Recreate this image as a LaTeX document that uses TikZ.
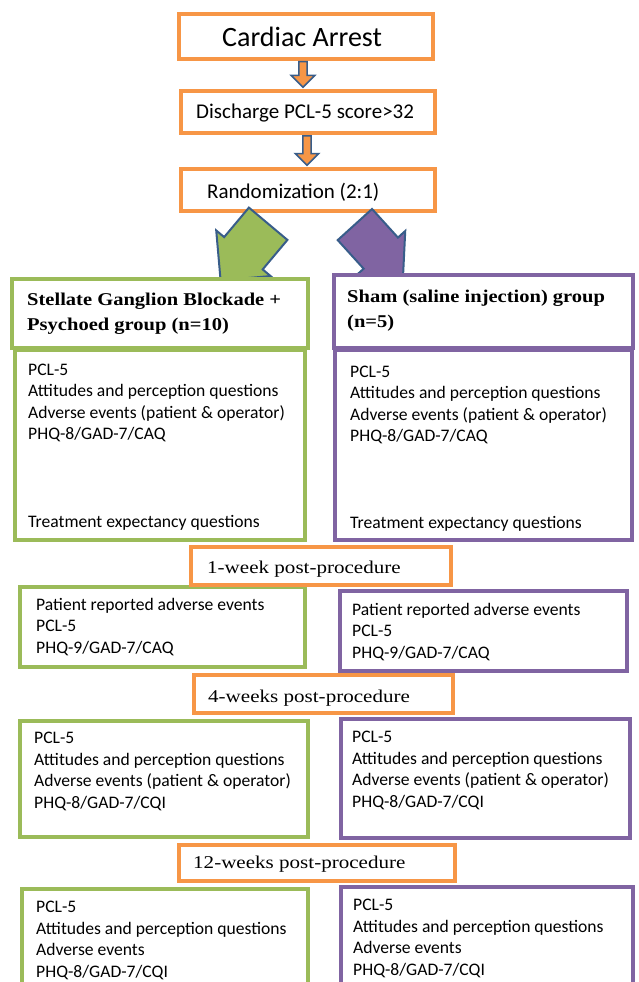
\documentclass[tikz,border=0pt]{standalone}
\usepackage{fontspec}
\setmainfont{Carlito}
\newfontfamily\headfont[FakeStretch=1.14]{Liberation Serif}
\newfontfamily\stagefont[FakeStretch=1.17]{Liberation Serif}
\usetikzlibrary{shapes.arrows}

\definecolor{boxorange}{HTML}{F79646}
\definecolor{boxgreen}{HTML}{9BBB59}
\definecolor{boxpurple}{HTML}{8064A2}
\definecolor{arrowline}{HTML}{385D8A}

\tikzset{
  boxline/.style={line width=4pt, fill=white, inner sep=0pt},
  obox/.style={boxline, draw=boxorange},
  gbox/.style={boxline, draw=boxgreen},
  pbox/.style={boxline, draw=boxpurple},
  % multi-line labels sit on the baseline of their last line
  txt/.style={anchor=base west, inner sep=0pt, align=left},
  body/.style={txt, font=\fontsize{17.6}{21.5}\selectfont},
  head/.style={txt, font=\headfont\bfseries\fontsize{18}{25}\selectfont},
  stage/.style={txt, font=\stagefont\fontsize{18}{22}\selectfont},
  downarrow/.style={single arrow, draw=arrowline, line width=1.5pt, fill=boxorange,
    inner sep=3.25pt, minimum width=23.5pt, rotate=-90, anchor=tail},
  armarrow/.style={single arrow, draw=arrowline, line width=2pt, anchor=tail}
}

\begin{document}
\begin{tikzpicture}[x=1pt, y=-1pt]
    \useasboundingbox (0,0) rectangle (639,982);

    % Screening
    \node[obox, minimum width=254, minimum height=45] (ca) at (306,36.5) {};
    \node[obox, minimum width=254, minimum height=42] (dis) at (308,112) {};
    \node[obox, minimum width=254, minimum height=42] (rnd) at (308,190) {};
    \node[downarrow, minimum height=25.5] (a1) at ([xshift=-3pt]ca.south) {};
    \node[downarrow, minimum height=29.5] (a2) at ([xshift=-1pt]dis.south) {};

    % Allocation
    \node[armarrow, fill=boxgreen, rotate=-130, minimum height=74, minimum width=71,
      inner sep=16.25pt] (toSgb) at ([xshift=-39.2pt, yshift=-10pt]rnd.south) {};
    \node[armarrow, fill=boxpurple, rotate=-47.8, minimum height=71.6, minimum width=66,
      inner sep=15.75pt] (toSham) at ([xshift=46.2pt, yshift=-10.8pt]rnd.south) {};

    % Groups and baseline
    \node[gbox, minimum width=296, minimum height=69] (sgbHead) at (160,313.5) {};
    \node[gbox, minimum width=290, minimum height=190] (sgbBase) at (160,445) {};
    \node[pbox, minimum width=299, minimum height=73] (shamHead) at (483.5,311.5) {};
    \node[pbox, minimum width=297, minimum height=190] (shamBase) at (483.5,445) {};

    % Follow-up
    \node[gbox, minimum width=285, minimum height=80] (sgbWk1) at (162.5,627) {};
    \node[pbox, minimum width=287, minimum height=80] (shamWk1) at (483.5,631) {};
    \node[gbox, minimum width=288, minimum height=116] (sgbWk4) at (164,779) {};
    \node[pbox, minimum width=289, minimum height=119] (shamWk4) at (485.5,778.5) {};
    \node[gbox, minimum width=286, minimum height=111] (sgbWk12) at (165,944.5) {};
    \node[pbox, minimum width=292, minimum height=113] (shamWk12) at (487,943.5) {};
    \node[obox, minimum width=260, minimum height=38] (wk1) at (321,566) {};
    \node[obox, minimum width=259, minimum height=38] (wk4) at (323.5,694) {};
    \node[obox, minimum width=276, minimum height=36] (wk12) at (317,863) {};

    % Labels
    \node[txt, font=\fontsize{28}{30}\selectfont] (caT) at (222,47) {Cardiac Arrest};
    \node[txt, font=\fontsize{21}{24}\selectfont] (disT) at (196,118) {Discharge PCL-5 score>32};
    \node[txt, font=\fontsize{21}{24}\selectfont] (rndT) at (207,198) {Randomization (2:1)};
    \node[head] (sgbHeadT) at (27,330) {Stellate Ganglion Blockade +\\Psychoed group (n=10)};
    \node[head] (shamHeadT) at (347,327) {Sham (saline injection) group\\(n=5)};
    \node[body] (sgbBaseT) at (28,527) {PCL-5\\Attitudes and perception questions\\Adverse events (patient \& operator)\\PHQ-8/GAD-7/CAQ\\[66pt]Treatment expectancy questions};
    \node[body] (shamBaseT) at (350,528) {PCL-5\\Attitudes and perception questions\\Adverse events (patient \& operator)\\PHQ-8/GAD-7/CAQ\\[65pt]Treatment expectancy questions};
    \node[stage] (wk1T) at (207,573) {1-week post-procedure};
    \node[body] (sgbWk1T) at (36,653) {Patient reported adverse events\\PCL-5\\PHQ-9/GAD-7/CAQ};
    \node[body] (shamWk1T) at (352,658) {Patient reported adverse events\\PCL-5\\PHQ-9/GAD-7/CAQ};
    \node[stage] (wk4T) at (208,702) {4-weeks post-procedure};
    \node[body] (sgbWk4T) at (34,808) {PCL-5\\Attitudes and perception questions\\Adverse events (patient \& operator)\\PHQ-8/GAD-7/CQI};
    \node[body] (shamWk4T) at (352,807) {PCL-5\\Attitudes and perception questions\\Adverse events (patient \& operator)\\PHQ-8/GAD-7/CQI};
    \node[stage] (wk12T) at (193,868) {12-weeks post-procedure};
    \node[body] (sgbWk12T) at (36,977) {PCL-5\\Attitudes and perception questions\\Adverse events\\PHQ-8/GAD-7/CQI};
    \node[body] (shamWk12T) at (353,975) {PCL-5\\Attitudes and perception questions\\Adverse events\\PHQ-8/GAD-7/CQI};
\end{tikzpicture}
\end{document}
